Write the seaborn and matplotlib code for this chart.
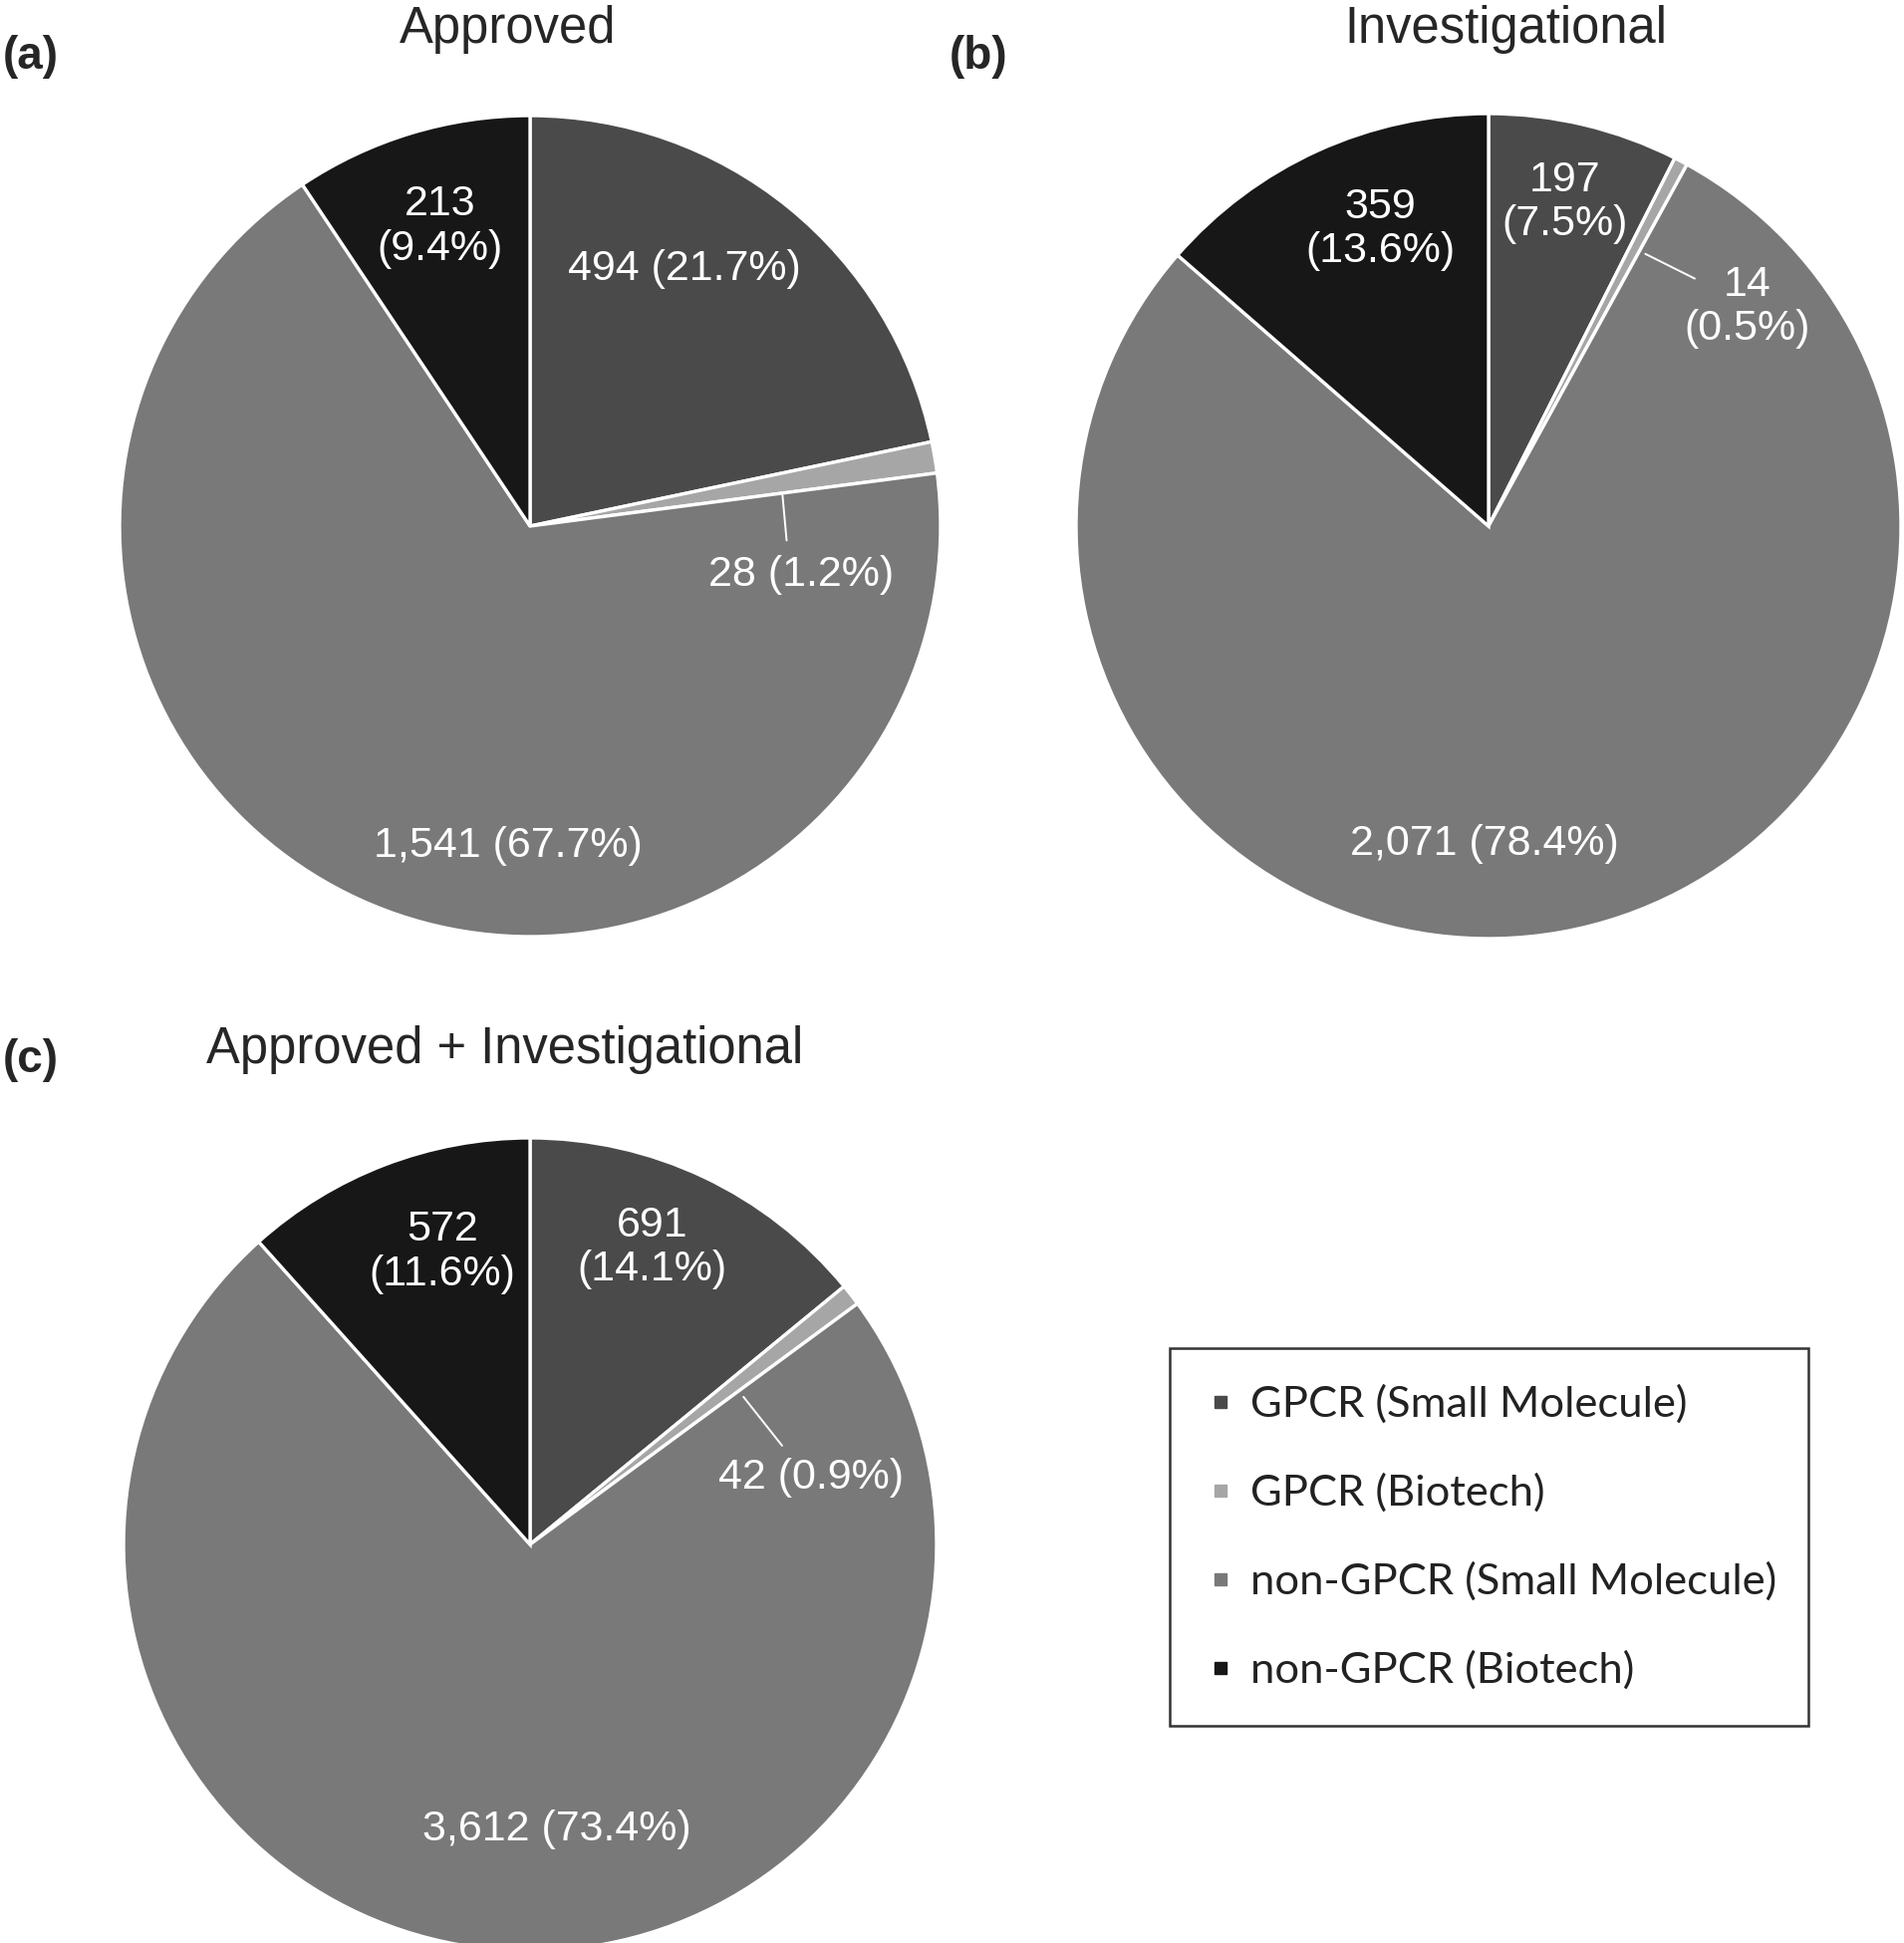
import matplotlib
matplotlib.use("Agg")
import matplotlib.pyplot as plt
import seaborn as sns
from matplotlib.lines import Line2D
from matplotlib.patches import Rectangle

# Data
categories = ["GPCR (Small Molecule)", "GPCR (Biotech)",
              "non-GPCR (Small Molecule)", "non-GPCR (Biotech)"]
approved = [494, 28, 1541, 213]
approved_pct = [21.7, 1.2, 67.7, 9.4]
investigational = [197, 14, 2071, 359]
investigational_pct = [7.5, 0.5, 78.4, 13.6]
combined = [691, 42, 3612, 572]
combined_pct = [14.1, 0.9, 73.4, 11.6]

colors = ["#4a4a4a", "#a6a6a6", "#797979", "#171717"]

sns.set_theme(style="white")
plt.rcParams["font.family"] = ["Liberation Sans", "DejaVu Sans"]

W, H = 1911, 1950
fig = plt.figure(figsize=(W / 100, H / 100), dpi=100)


def px_axes(cx, cy, r):
    return fig.add_axes([(cx - r) / W, (H - cy - r) / H, 2 * r / W, 2 * r / H])


def draw_pie(cx, cy, r, values, pcts, label_pos, two_line, leader, title, title_xy, tag, tag_xy):
    ax = px_axes(cx, cy, r)
    ax.pie(values, colors=colors, startangle=90, counterclock=False, radius=1,
           wedgeprops=dict(edgecolor="white", linewidth=2.4))
    ax.set_xlim(-1, 1)
    ax.set_ylim(-1, 1)
    ax.set_aspect("equal")
    ax.axis("off")
    for v, p, (x, y), tl in zip(values, pcts, label_pos, two_line):
        sep = "\n" if tl else " "
        ax.text(x, y, f"{v:,}{sep}({p}%)", color="white", fontsize=31,
                ha="center", va="center", linespacing=1.15)
    (x0, y0), (x1, y1) = leader
    ax.plot([x0, x1], [y0, y1], color="white", lw=1.4)
    fig.text(title_xy[0] / W, 1 - title_xy[1] / H, title, fontsize=36.5,
             ha="center", va="center")
    fig.text(tag_xy[0] / W, 1 - tag_xy[1] / H, tag, fontsize=33,
             fontweight="bold", ha="center", va="center")


# (a) Approved
draw_pie(532, 528, 412, approved, approved_pct,
         [(0.375, 0.625), (0.66, -0.12), (-0.054, -0.78), (-0.22, 0.73)],
         [False, False, False, True],
         [(0.615, 0.075), (0.625, -0.035)],
         "Approved", (510, 30), "(a)", (31, 57))

# (b) Investigational
draw_pie(1494, 528, 414, investigational, investigational_pct,
         [(0.185, 0.785), (0.627, 0.531), (-0.01, -0.77), (-0.263, 0.72)],
         [True, True, False, True],
         [(0.38, 0.66), (0.50, 0.60)],
         "Investigational", (1511, 30), "(b)", (982, 57))

# (c) Approved + Investigational
draw_pie(532, 1550, 408, combined, combined_pct,
         [(0.30, 0.73), (0.69, 0.165), (0.066, -0.70), (-0.216, 0.72)],
         [True, False, False, True],
         [(0.525, 0.363), (0.62, 0.243)],
         "Approved + Investigational", (507, 1053), "(c)", (31, 1064))

# Legend box
fig.patches.append(Rectangle((1174 / W, 1 - 1732 / H), 641 / W, 379 / H,
                             transform=fig.transFigure, fill=False,
                             edgecolor="#333333", linewidth=1.8))
handles = [Line2D([], [], linestyle="none", marker="s", markersize=8,
                  markerfacecolor=c, markeredgecolor=c) for c in colors]
fig.legend(handles, categories, loc="upper left",
           bbox_to_anchor=(1190 / W, 1 - 1368 / H), frameon=False,
           prop={"family": ["Lato", "DejaVu Sans"], "size": 31.3},
           labelcolor="#222222", handlelength=0.6, handletextpad=0.4,
           labelspacing=1.14, borderpad=0)

fig.savefig("out.png", dpi=100)
